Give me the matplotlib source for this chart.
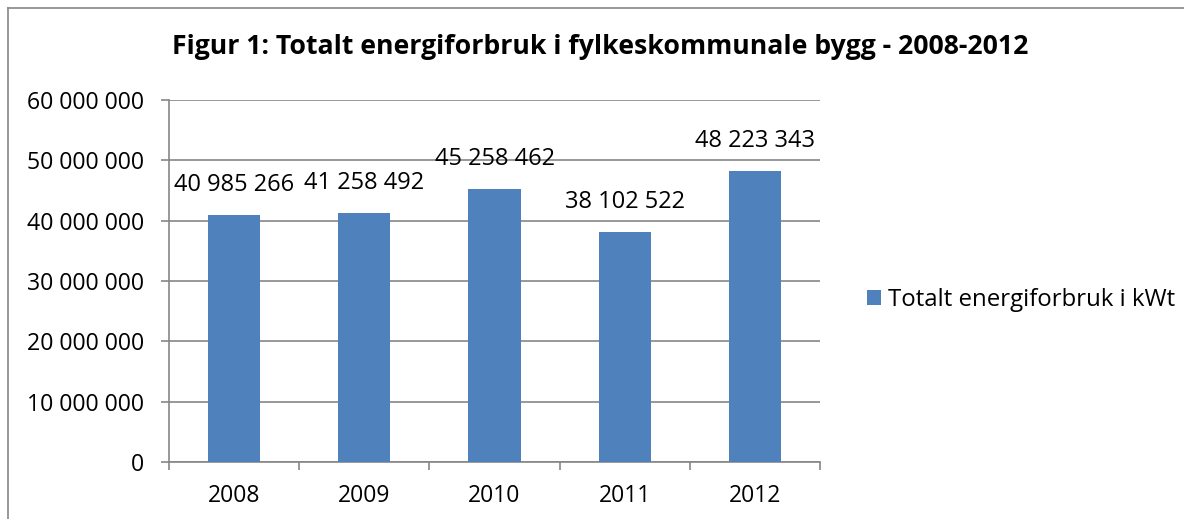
import matplotlib.pyplot as plt
from matplotlib.lines import Line2D
from matplotlib.ticker import FuncFormatter

# data
years = ['2008', '2009', '2010', '2011', '2012']
energi = [40985266, 41258492, 45258462, 38102522, 48223343]
serie_navn = 'Totalt energiforbruk i kWt'
tittel = 'Figur 1: Totalt energiforbruk i fylkeskommunale bygg - 2008-2012'

plt.rcParams['font.family'] = ['Open Sans', 'DejaVu Sans']
blue = '#4F81BD'
grey = '#868686'


def mellomrom(v, pos=None):
    return f'{int(v):,}'.replace(',', ' ')


fig = plt.figure(figsize=(11.84, 5.19), dpi=100)
# ramme: bare venstre og topp synlig
fx, fy = 7.5 / 1184, 1 - 8 / 519
fig.lines.append(Line2D([fx, fx], [0, fy], transform=fig.transFigure,
                        color=grey, linewidth=1.2))
fig.lines.append(Line2D([fx, 1], [fy, fy], transform=fig.transFigure,
                        color=grey, linewidth=1.2))

ax = fig.add_axes([169 / 1184, 57 / 519, 651 / 1184, 362 / 519])
x = range(len(years))
bars = ax.bar(x, energi, width=0.4, color=blue, zorder=3)

ax.set_ylim(0, 60000000)
ax.set_xlim(-0.5, len(years) - 0.5)
ax.set_yticks(range(0, 60000001, 10000000))
ax.yaxis.set_major_formatter(FuncFormatter(mellomrom))
ax.grid(axis='y', color=grey, linewidth=1.2, zorder=0)

ax.set_xticks(list(x))
ax.set_xticklabels(years)
ax.set_xticks([i - 0.5 for i in range(len(years) + 1)], minor=True)
ax.tick_params(axis='x', which='major', length=0, pad=16, labelsize=16.5)
ax.tick_params(axis='x', which='minor', length=6, color=grey, width=1.2)
ax.tick_params(axis='y', length=6, color=grey, width=1.2, pad=12, labelsize=16.7)

for s in ['top', 'right']:
    ax.spines[s].set_visible(False)
for s in ['left', 'bottom']:
    ax.spines[s].set_color(grey)
    ax.spines[s].set_linewidth(1.2)

for b, v in zip(bars, energi):
    ax.annotate(mellomrom(v), (b.get_x() + b.get_width() / 2, v),
                xytext=(0, 13), textcoords='offset points',
                ha='center', va='bottom', fontsize=17)

fig.text(600 / 1184, 1 - 47 / 519, tittel, ha='center', va='center',
         fontsize=19.2, fontweight='bold')

ax.legend([bars[0]], [serie_navn], loc='center left',
          bbox_to_anchor=(845 / 1184, 1 - 300 / 519),
          bbox_transform=fig.transFigure, frameon=False, fontsize=17.3,
          handlelength=0.6, handleheight=0.6, handletextpad=0.3)

fig.savefig('out.png', dpi=100)
